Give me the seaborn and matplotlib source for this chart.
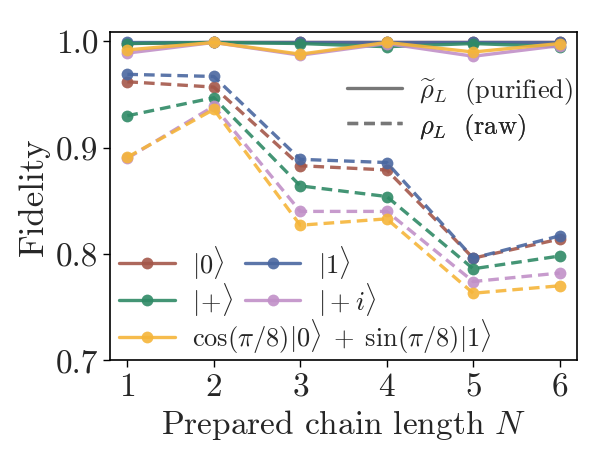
import numpy as np
import pandas as pd
import matplotlib
matplotlib.use('Agg')
import matplotlib.pyplot as plt
from matplotlib.lines import Line2D
import seaborn as sns

# chain lengths
N = [1, 2, 3, 4, 5, 6]

# raw fidelities (dashed)
raw_0 = [0.962, 0.957, 0.883, 0.879, 0.796, 0.814]
raw_1 = [0.969, 0.967, 0.889, 0.886, 0.796, 0.817]
raw_plus = [0.930, 0.947, 0.864, 0.854, 0.786, 0.798]
raw_plus_i = [0.890, 0.939, 0.840, 0.840, 0.774, 0.782]
raw_cos = [0.891, 0.936, 0.827, 0.833, 0.763, 0.770]

# purified fidelities (solid)
pur_0 = [0.998, 0.999, 0.999, 0.999, 0.999, 0.999]
pur_1 = [0.999, 0.999, 0.999, 0.999, 0.999, 0.999]
pur_plus = [0.998, 0.999, 0.998, 0.995, 0.998, 0.995]
pur_plus_i = [0.989, 0.999, 0.987, 0.998, 0.986, 0.996]
pur_cos = [0.992, 0.999, 0.988, 0.999, 0.990, 0.998]

labels = [r'$|0\rangle$', r'$|1\rangle$', r'$|\!+\!\rangle$', r'$|+i\rangle$',
          r'$\cos(\pi/8)|0\rangle\;+\;\sin(\pi/8)|1\rangle$']
colors = ['#a4574a', '#4a67a0', '#2f8a66', '#c190c8', '#f5b53a']
raw = [raw_0, raw_1, raw_plus, raw_plus_i, raw_cos]
pur = [pur_0, pur_1, pur_plus, pur_plus_i, pur_cos]

sns.set_style('ticks')
plt.rcParams['font.family'] = 'serif'
plt.rcParams['font.serif'] = ['cmr10']
plt.rcParams['mathtext.fontset'] = 'cm'
plt.rcParams['axes.unicode_minus'] = False
plt.rcParams['axes.formatter.use_mathtext'] = True

fig = plt.figure(figsize=(6.08, 4.56), dpi=100)
ax = fig.add_axes([0.181, 0.208, 0.768, 0.72])

lw = 2.4
ms = 8.5
dash = (0, (3.2, 1.8))
for i in range(5):
    df_raw = pd.DataFrame({'N': N, 'F': raw[i]})
    sns.lineplot(data=df_raw, x='N', y='F', ax=ax, color=colors[i], lw=lw,
                 linestyle=dash, marker='o', markersize=ms,
                 markeredgewidth=0, alpha=0.9, legend=False)
for i in range(5):
    df_pur = pd.DataFrame({'N': N, 'F': pur[i]})
    sns.lineplot(data=df_pur, x='N', y='F', ax=ax, color=colors[i], lw=lw,
                 marker='o', markersize=ms, markeredgewidth=0, alpha=0.9,
                 legend=False)

ax.set_xlim(0.8, 6.2)
ax.set_ylim(0.7, 1.009)
ax.set_xticks(N)
ax.set_yticks([0.7, 0.8, 0.9, 1.0])
ax.set_yticklabels(['0.7', '0.8', '0.9', '1.0'])
ax.tick_params(labelsize=24, length=5, width=1, color='black')
for s in ax.spines.values():
    s.set_color('black')
    s.set_linewidth(1.2)
ax.set_xlabel(r'Prepared chain length $N$', fontsize=24)
ax.set_ylabel('Fidelity', fontsize=25)

def h(c, ls='-', marker='o'):
    return Line2D([], [], color=c, lw=lw, linestyle=ls, marker=marker,
                  markersize=ms, markeredgewidth=0, alpha=0.9)

leg_kw = dict(loc='center left', frameon=False, fontsize=19, borderpad=0,
              borderaxespad=0, handlelength=2.1, handletextpad=0.65)

# state legend, laid out entry by entry
col_x = [0.02, 0.289]
row_y = [0.299, 0.186, 0.073]
entries = [(0, 0, 0), (1, 1, 0), (2, 0, 1), (3, 1, 1), (4, 0, 2)]
for idx, c, r in entries:
    lg = ax.legend([h(colors[idx])], [labels[idx]],
                   bbox_to_anchor=(col_x[c], row_y[r]), **leg_kw)
    ax.add_artist(lg)

# line style legend
style_labels = [r'$\widetilde{\rho}_L\ $ (purified)', r'$\rho_L\ $ (raw)']
style_ls = ['-', dash]
style_y = [0.820, 0.713]
for lab, ls, y in zip(style_labels, style_ls, style_y):
    lg = ax.legend([Line2D([], [], color='#777777', lw=lw, linestyle=ls)],
                   [lab], bbox_to_anchor=(0.507, y), **leg_kw)
    ax.add_artist(lg)

fig.savefig('out.png', dpi=100)
